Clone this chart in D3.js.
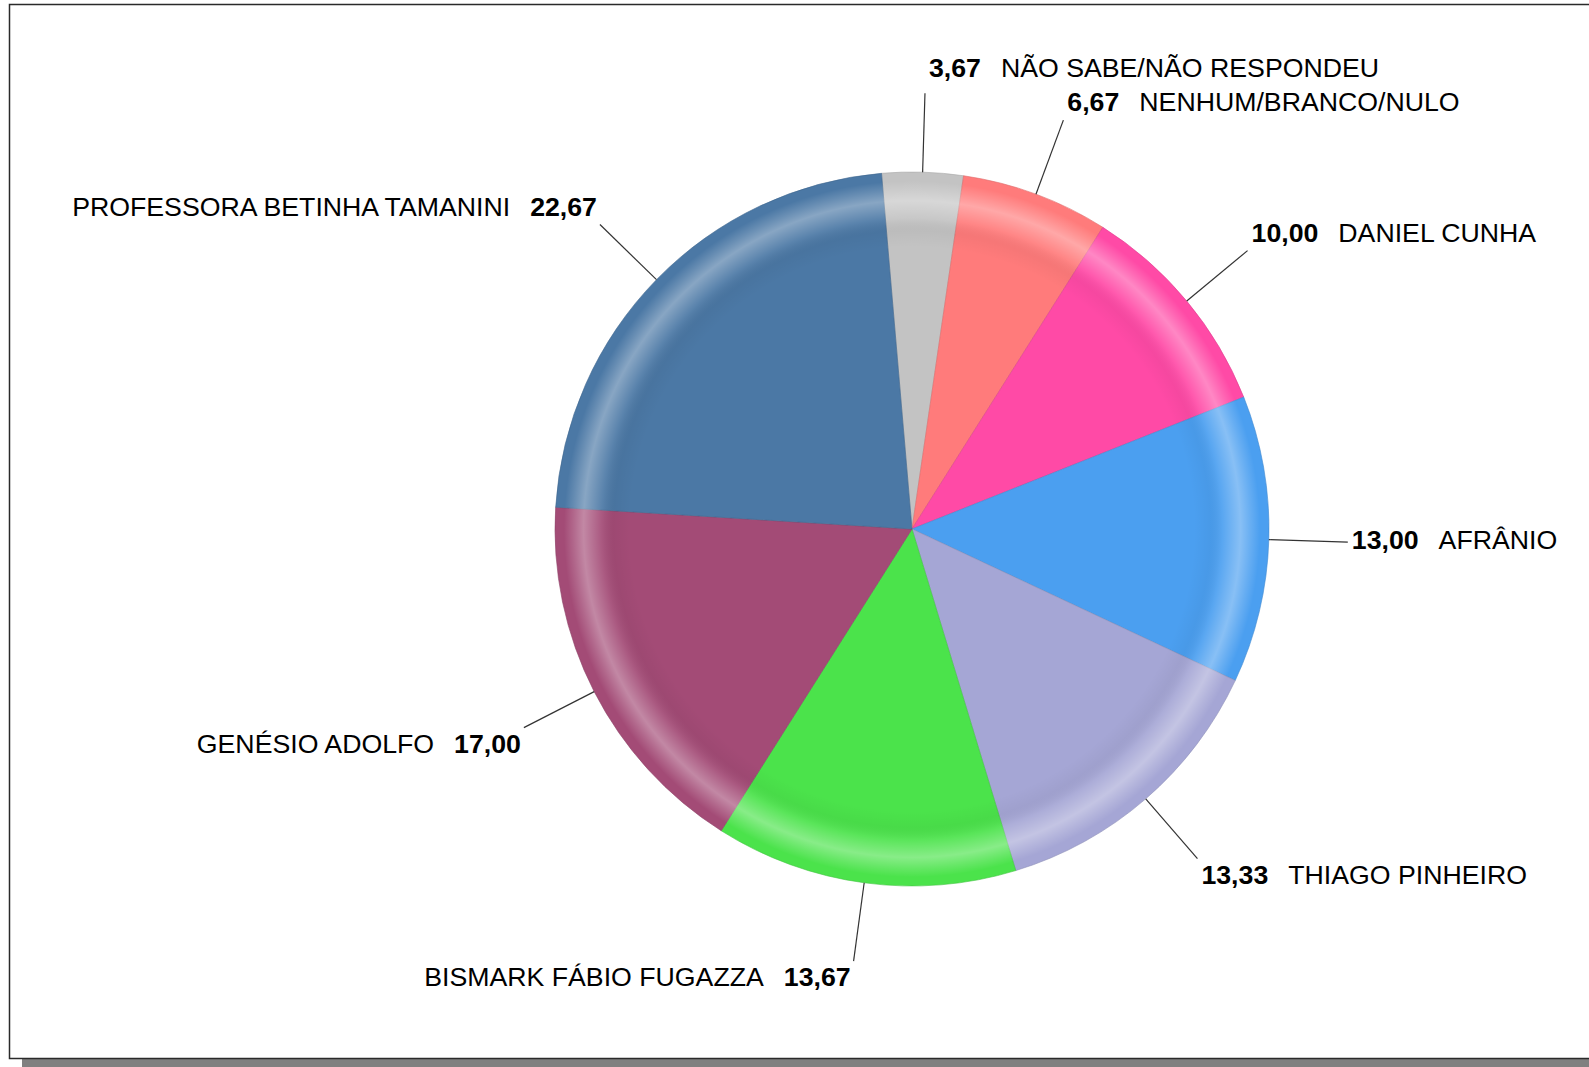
<html>
<head>
<meta charset="utf-8">
<script src="https://cdn.jsdelivr.net/npm/d3@7"></script>
<style>
	body { margin:0; background:#fff; }
	svg { display:block; }
	text { font-family: Arial, "Liberation Sans", sans-serif; font-size:26.7px; fill:#000; }
</style>
</head>
<body>
<svg id="svg" width="1589" height="1067"></svg>
<script>
// chart data, clockwise from the top
const names = ["NÃO SABE/NÃO RESPONDEU", "NENHUM/BRANCO/NULO", "DANIEL CUNHA", "AFRÂNIO",
	"THIAGO PINHEIRO", "BISMARK FÁBIO FUGAZZA", "GENÉSIO ADOLFO", "PROFESSORA BETINHA TAMANINI"];
const values = [3.67, 6.67, 10.00, 13.00, 13.33, 13.67, 17.00, 22.67];
const valueLabels = ["3,67", "6,67", "10,00", "13,00", "13,33", "13,67", "17,00", "22,67"];
const colors = ["#c3c3c3", "#ff7b7b", "#ff4aa6", "#4b9ff0", "#a5a6d5", "#4be34b", "#a34b76", "#4b78a5"];

// layout constants
const cx = 912, cy = 529;
const radius = 357;
const labelRadius = 436;
const startAngle = -4.9 * Math.PI / 180;

let mySvg = d3.select('#svg');

// frame and its shadow
mySvg.append("rect")
	.attr("x", 22).attr("y", 1059)
	.attr("width", 1600).attr("height", 10)
	.attr("fill", "#808080");
mySvg.append("rect")
	.attr("x", 9.5).attr("y", 4.5)
	.attr("width", 1600).attr("height", 1054)
	.attr("fill", "#fff")
	.attr("stroke", "#2a2a2a")
	.attr("stroke-width", 1.5);

// bevel ring gradient
let defs = mySvg.append("defs");
let grad = defs.append("radialGradient")
	.attr("id", "ring")
	.attr("gradientUnits", "userSpaceOnUse")
	.attr("cx", 0).attr("cy", 0).attr("r", radius);
[[0, "#000", 0], [0.79, "#000", 0], [0.835, "#000", 0.035], [0.87, "#fff", 0.08],
 [0.92, "#fff", 0.34], [0.95, "#fff", 0.15], [0.975, "#fff", 0], [1, "#fff", 0]]
	.forEach(s => grad.append("stop")
		.attr("offset", s[0]).attr("stop-color", s[1]).attr("stop-opacity", s[2]));

let pie = d3.pie()
	.sort(null)
	.startAngle(startAngle)
	.endAngle(startAngle + 2 * Math.PI)
	.value(d => d);

let arc = d3.arc().innerRadius(0).outerRadius(radius);
let edgeArc = d3.arc().innerRadius(radius).outerRadius(radius);
let outArc = d3.arc().innerRadius(labelRadius).outerRadius(labelRadius);

let g = mySvg.append("g").attr("transform", `translate(${cx}, ${cy})`);
let arcs = pie(values);

g.selectAll("path.slice")
	.data(arcs)
	.enter().append("path")
	.attr("class", "slice")
	.attr("d", arc)
	.attr("fill", (d, i) => colors[i])
	.attr("stroke", (d, i) => d3.color(colors[i]).darker(0.4))
	.attr("stroke-width", 0.6);

g.append("circle")
	.attr("r", radius)
	.attr("fill", "url(#ring)");

// leader lines
g.selectAll("line.leader")
	.data(arcs)
	.enter().append("line")
	.attr("class", "leader")
	.attr("x1", d => edgeArc.centroid(d)[0])
	.attr("y1", d => edgeArc.centroid(d)[1])
	.attr("x2", d => outArc.centroid(d)[0])
	.attr("y2", d => outArc.centroid(d)[1])
	.attr("stroke", "#333")
	.attr("stroke-width", 1.2);

// labels
function midAngle(d) { return (d.startAngle + d.endAngle) / 2; }

function baselineShift(a) {
	let c = Math.cos(a);
	if (c > 0.98) return -16;
	if (c > 0.3) return -9;
	if (c > -0.3) return 7;
	return 25;
}

g.selectAll("text.label")
	.data(arcs)
	.enter().append("text")
	.attr("class", "label")
	.each(function(d, i) {
		let a = midAngle(d);
		let p = outArc.centroid(d);
		let right = Math.sin(a) > 0;
		let t = d3.select(this)
			.attr("x", right ? p[0] + 4 : p[0] - 3)
			.attr("y", p[1] + baselineShift(a))
			.attr("text-anchor", right ? "start" : "end");
		if (right) {
			t.append("tspan").attr("font-weight", "bold").text(valueLabels[i]);
			t.append("tspan").attr("dx", 20).text(names[i]);
		} else {
			t.append("tspan").text(names[i]);
			t.append("tspan").attr("dx", 20).attr("font-weight", "bold").text(valueLabels[i]);
		}
	});
</script>
</body>
</html>
